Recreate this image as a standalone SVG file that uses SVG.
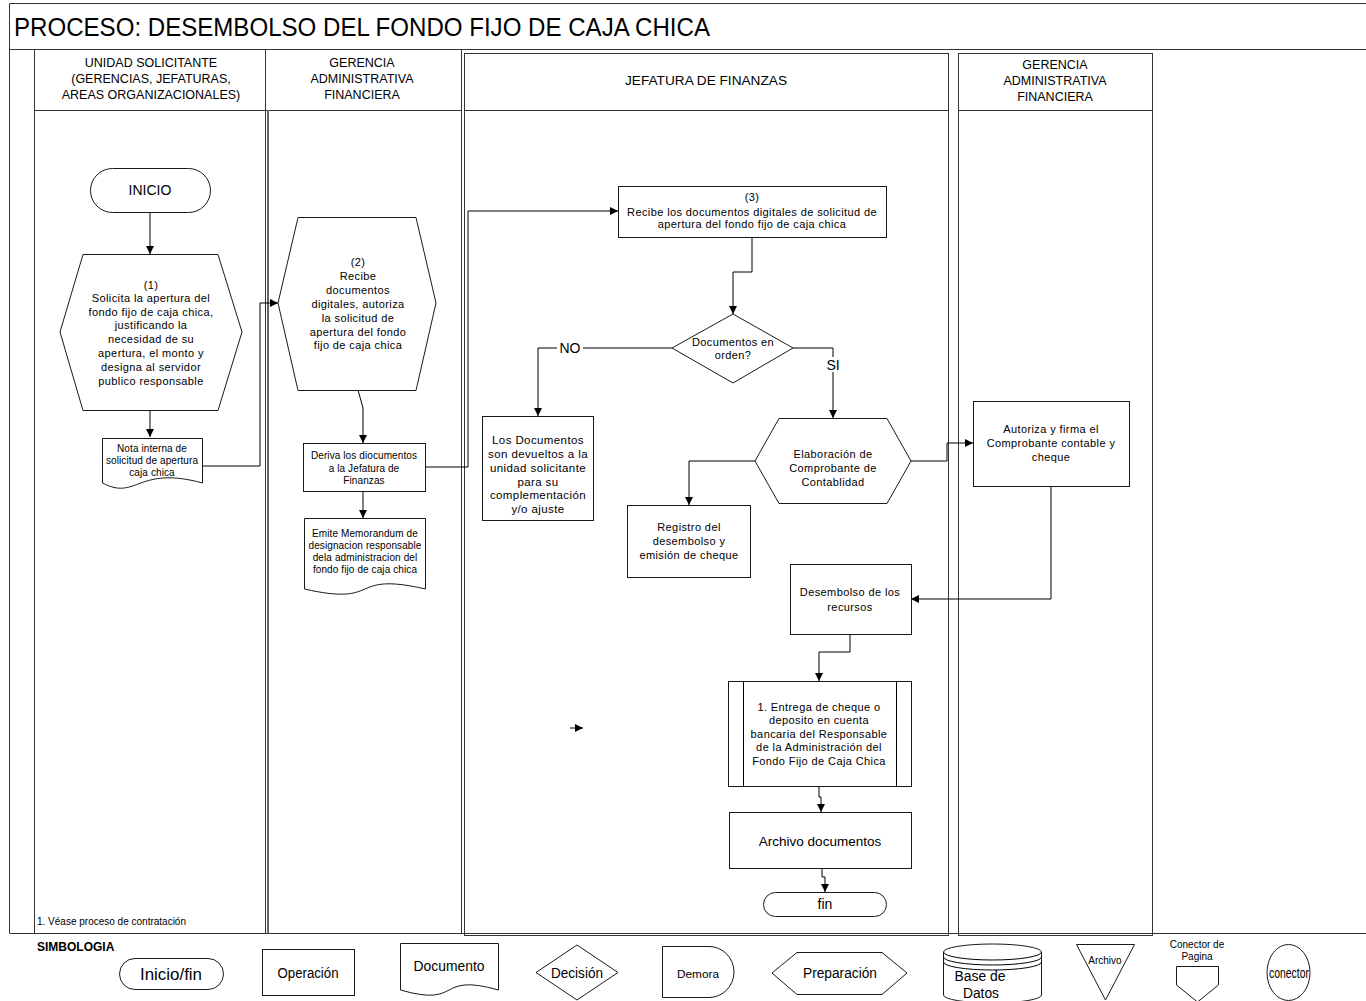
<svg xmlns="http://www.w3.org/2000/svg" width="1366" height="1001" viewBox="0 0 1366 1001">
<defs>
<marker id="arr" viewBox="0 0 10 10" refX="10" refY="5" markerWidth="9" markerHeight="8" orient="auto" markerUnits="userSpaceOnUse"><path d="M0,0 L10,5 L0,10 z" fill="#000"/></marker>
<style>
text{font-family:"Liberation Sans",Arial,sans-serif;fill:#000;text-anchor:middle}
.t11{font-size:11px;letter-spacing:0.4px}
.t12b{font-size:11.5px;letter-spacing:0.4px}
.t10{font-size:10px;letter-spacing:0.1px}
.hdr{font-size:12.5px}
.shape{fill:#fff;stroke:#1a1a1a;stroke-width:1}
.lane{fill:none;stroke:#333;stroke-width:1}
.conn{fill:none;stroke:#000;stroke-width:1}
.lbl{fill:#fff;stroke:none}
</style>
</defs>
<rect width="1366" height="1001" fill="#fff"/>

<g id="frame">
<path class="lane" d="M1366,3.5 H9.5 V933.5 H1366"/>
<line class="lane" x1="9.5" y1="49.5" x2="1366" y2="49.5"/>
<text x="14" y="36" textLength="696" lengthAdjust="spacingAndGlyphs" style="font-size:25px;text-anchor:start">PROCESO: DESEMBOLSO DEL FONDO FIJO DE CAJA CHICA</text>
<line class="lane" x1="34.5" y1="49.5" x2="34.5" y2="933.5"/>
<line class="lane" x1="34.5" y1="110.5" x2="461.5" y2="110.5"/>
<line class="lane" x1="265.5" y1="49.5" x2="265.5" y2="933.5"/>
<line x1="268" y1="110" x2="268" y2="933" stroke="#666" stroke-width="2"/>
<line class="lane" x1="461.5" y1="49.5" x2="461.5" y2="933.5"/>
<rect class="lane" x="464.5" y="53.5" width="484" height="882"/>
<line class="lane" x1="464.5" y1="110.5" x2="948.5" y2="110.5"/>
<rect class="lane" x="958.5" y="53.5" width="194" height="882"/>
<line class="lane" x1="958.5" y1="110.5" x2="1152.5" y2="110.5"/>
<text class="hdr" x="151" y="67">UNIDAD SOLICITANTE</text>
<text class="hdr" x="151" y="83">(GERENCIAS, JEFATURAS,</text>
<text class="hdr" x="151" y="99">AREAS ORGANIZACIONALES)</text>
<text class="hdr" x="362" y="67">GERENCIA</text>
<text class="hdr" x="362" y="83">ADMINISTRATIVA</text>
<text class="hdr" x="362" y="99">FINANCIERA</text>
<text class="hdr" x="706" y="85" textLength="162" lengthAdjust="spacingAndGlyphs">JEFATURA DE FINANZAS</text>
<text class="hdr" x="1055" y="69">GERENCIA</text>
<text class="hdr" x="1055" y="85">ADMINISTRATIVA</text>
<text class="hdr" x="1055" y="101">FINANCIERA</text>
<text x="37" y="925" style="font-size:10px;text-anchor:start">1. Véase proceso de contratación</text>
</g>

<g id="connectors">
<path class="conn" d="M150,212 V254" marker-end="url(#arr)"/>
<path class="conn" d="M150,410 V437" marker-end="url(#arr)"/>
<path class="conn" d="M202,466 H260 V303 H278" marker-end="url(#arr)"/>
<path class="conn" d="M358,390 L363,408 V443" marker-end="url(#arr)"/>
<path class="conn" d="M363,491 V518" marker-end="url(#arr)"/>
<path class="conn" d="M425,467 H468 V211 H618" marker-end="url(#arr)"/>
<path class="conn" d="M752,237 V272 H733 V314" marker-end="url(#arr)"/>
<path class="conn" d="M672,348 H538 V416" marker-end="url(#arr)"/>
<path class="conn" d="M793,348 H833 V418" marker-end="url(#arr)"/>
<path class="conn" d="M755,461 H689 V505" marker-end="url(#arr)"/>
<path class="conn" d="M911,461 H947 V443 H973" marker-end="url(#arr)"/>
<path class="conn" d="M1051,486 V599 H911" marker-end="url(#arr)"/>
<path class="conn" d="M850,634 V652 H819 V681" marker-end="url(#arr)"/>
<path class="conn" d="M819,786 V797 H821 V812" marker-end="url(#arr)"/>
<path class="conn" d="M822,868 V877 H825 V892" marker-end="url(#arr)"/>
<path class="conn" d="M570,728 H583" marker-end="url(#arr)"/>
<rect class="lbl" x="557" y="341" width="26" height="14"/>
<text x="570" y="353" style="font-size:14px">NO</text>
<rect class="lbl" x="825" y="357" width="16" height="15"/>
<text x="833" y="370" style="font-size:14px">SI</text>
</g>

<g id="n-inicio">
<rect class="shape" x="90.5" y="168.5" width="120" height="44" rx="22"/>
<text x="150" y="195" style="font-size:14px">INICIO</text>
</g>

<g id="n-1">
<polygon class="shape" points="83,254.5 218,254.5 242,332 218,410.5 83,410.5 60,332"/>
<text class="t11" x="151" y="289">(1)</text>
<text class="t11" x="151" y="302">Solicita la apertura del</text>
<text class="t11" x="151" y="316">fondo fijo de caja chica,</text>
<text class="t11" x="151" y="329">justificando la</text>
<text class="t11" x="151" y="343">necesidad de su</text>
<text class="t11" x="151" y="357">apertura, el monto y</text>
<text class="t11" x="151" y="371">designa al servidor</text>
<text class="t11" x="151" y="385">publico responsable</text>
</g>

<g id="n-nota">
<path class="shape" d="M102.5,438.5 H202.5 V483 C137,465 137,501 102.5,483 Z"/>
<text class="t10" x="152" y="452">Nota interna de</text>
<text class="t10" x="152" y="464">solicitud de apertura</text>
<text class="t10" x="152" y="476">caja chica</text>
</g>

<g id="n-2">
<polygon class="shape" points="298,217.5 416,217.5 436,303 416,390.5 298,390.5 278,303"/>
<text class="t11" x="358" y="266">(2)</text>
<text class="t11" x="358" y="280">Recibe</text>
<text class="t11" x="358" y="294">documentos</text>
<text class="t11" x="358" y="308">digitales, autoriza</text>
<text class="t11" x="358" y="322">la solicitud de</text>
<text class="t11" x="358" y="336">apertura del fondo</text>
<text class="t11" x="358" y="349">fijo de caja chica</text>
</g>

<g id="n-deriva">
<rect class="shape" x="303.5" y="443.5" width="122" height="48"/>
<text class="t10" x="364" y="459">Deriva los diocumentos</text>
<text class="t10" x="364" y="472">a la Jefatura de</text>
<text class="t10" x="364" y="484">Finanzas</text>
</g>

<g id="n-emite">
<path class="shape" d="M304.5,518.5 H425.5 V589 C347,571 383,607 304.5,589 Z"/>
<text class="t10" x="365" y="537">Emite Memorandum de</text>
<text class="t10" x="365" y="549">designacion responsable</text>
<text class="t10" x="365" y="561">dela administracion del</text>
<text class="t10" x="365" y="573">fondo fijo de caja chica</text>
</g>

<g id="n-3">
<rect class="shape" x="618.5" y="186.5" width="268" height="51"/>
<text class="t11" x="752" y="201">(3)</text>
<text class="t11" x="752" y="216">Recibe los documentos digitales de solicitud de</text>
<text class="t11" x="752" y="228">apertura del fondo fijo de caja chica</text>
</g>

<g id="n-decision">
<polygon class="shape" points="733,314 793,348 733,383 672,348"/>
<text class="t11" x="733" y="346">Documentos en</text>
<text class="t11" x="733" y="359">orden?</text>
</g>

<g id="n-devueltos">
<rect class="shape" x="482.5" y="416.5" width="111" height="104"/>
<text class="t12b" x="538" y="444">Los Documentos</text>
<text class="t12b" x="538" y="458">son devueltos a la</text>
<text class="t12b" x="538" y="472">unidad solicitante</text>
<text class="t12b" x="538" y="486">para su</text>
<text class="t12b" x="538" y="499">complementación</text>
<text class="t12b" x="538" y="513">y/o ajuste</text>
</g>

<g id="n-elaboracion">
<polygon class="shape" points="779,418.5 887,418.5 911,461 887,503.5 779,503.5 755,461"/>
<text class="t11" x="833" y="458">Elaboración de</text>
<text class="t11" x="833" y="472">Comprobante de</text>
<text class="t11" x="833" y="486">Contablidad</text>
</g>

<g id="n-registro">
<rect class="shape" x="627.5" y="505.5" width="123" height="72"/>
<text class="t11" x="689" y="531">Registro del</text>
<text class="t11" x="689" y="545">desembolso y</text>
<text class="t11" x="689" y="559">emisión de cheque</text>
</g>

<g id="n-autoriza">
<rect class="shape" x="973.5" y="401.5" width="156" height="85"/>
<text class="t11" x="1051" y="433">Autoriza y firma el</text>
<text class="t11" x="1051" y="447">Comprobante contable y</text>
<text class="t11" x="1051" y="461">cheque</text>
</g>

<g id="n-desembolso">
<rect class="shape" x="790.5" y="564.5" width="121" height="70"/>
<text class="t11" x="850" y="596">Desembolso de los</text>
<text class="t11" x="850" y="611">recursos</text>
</g>

<g id="n-entrega">
<rect class="shape" x="728.5" y="681.5" width="183" height="105"/>
<line class="conn" x1="743.5" y1="681.5" x2="743.5" y2="786.5" stroke="#1a1a1a"/>
<line class="conn" x1="896.5" y1="681.5" x2="896.5" y2="786.5" stroke="#1a1a1a"/>
<text class="t11" x="819" y="711">1. Entrega de cheque o</text>
<text class="t11" x="819" y="724">deposito en cuenta</text>
<text class="t11" x="819" y="738">bancaria del Responsable</text>
<text class="t11" x="819" y="751">de la Administración del</text>
<text class="t11" x="819" y="765">Fondo Fijo de Caja Chica</text>
</g>

<g id="n-archivo">
<rect class="shape" x="729.5" y="812.5" width="182" height="56"/>
<text x="820" y="846" style="font-size:13.5px">Archivo documentos</text>
</g>

<g id="n-fin">
<rect class="shape" x="763.5" y="892.5" width="123" height="24" rx="12"/>
<text x="825" y="909" style="font-size:14px">fin</text>
</g>

<g id="legend">
<text x="37" y="951" style="font-size:12px;font-weight:bold;text-anchor:start">SIMBOLOGIA</text>
<rect class="shape" x="119.5" y="958.5" width="104" height="31" rx="15.5"/>
<text x="171" y="980" textLength="62" lengthAdjust="spacingAndGlyphs" style="font-size:16px">Inicio/fin</text>
<rect class="shape" x="262.5" y="949.5" width="92" height="46"/>
<text x="308" y="978" textLength="61" lengthAdjust="spacingAndGlyphs" style="font-size:14px">Operación</text>
<path class="shape" d="M400.5,943.5 H498.5 V990 C435,972 463,1008 400.5,990 Z"/>
<text x="449" y="971" textLength="71" lengthAdjust="spacingAndGlyphs" style="font-size:14px">Documento</text>
<polygon class="shape" points="577,945 618,972.5 577,1000 536,972.5"/>
<text x="577" y="978" textLength="52" lengthAdjust="spacingAndGlyphs" style="font-size:14px">Decisión</text>
<path class="shape" d="M662.5,946.5 H709 A25,25.5 0 0 1 709,997.5 H662.5 Z"/>
<text x="698" y="978" textLength="42" lengthAdjust="spacingAndGlyphs" style="font-size:11px">Demora</text>
<polygon class="shape" points="797,952.5 882,952.5 907,973 882,994.5 797,994.5 772,973"/>
<text x="840" y="978" textLength="74" lengthAdjust="spacingAndGlyphs" style="font-size:14px">Preparación</text>
<path class="shape" d="M943.5,952 A49,8 0 0 1 1041.5,952 V995 A49,8 0 0 1 943.5,995 Z"/>
<path class="conn" d="M943.5,952 A49,8 0 0 0 1041.5,952 M943.5,957 A49,8 0 0 0 1041.5,957 M943.5,962 A49,8 0 0 0 1041.5,962" stroke="#1a1a1a"/>
<text x="980" y="981" textLength="51" lengthAdjust="spacingAndGlyphs" style="font-size:14px">Base de</text>
<text x="981" y="998" textLength="36" lengthAdjust="spacingAndGlyphs" style="font-size:14px">Datos</text>
<polygon class="shape" points="1076.5,944.5 1134.5,944.5 1105.5,1000"/>
<text x="1105" y="964" style="font-size:10px">Archivo</text>
<text x="1197" y="948" style="font-size:10px">Conector de</text>
<text x="1197" y="960" style="font-size:10px">Pagina</text>
<polygon class="shape" points="1176.5,966.5 1218.5,966.5 1218.5,985 1197.5,1002 1176.5,985"/>
<ellipse class="shape" cx="1288.5" cy="972.5" rx="21.5" ry="28"/>
<text x="1289" y="978" textLength="40" lengthAdjust="spacingAndGlyphs" style="font-size:14px">conector</text>
</g>
</svg>
